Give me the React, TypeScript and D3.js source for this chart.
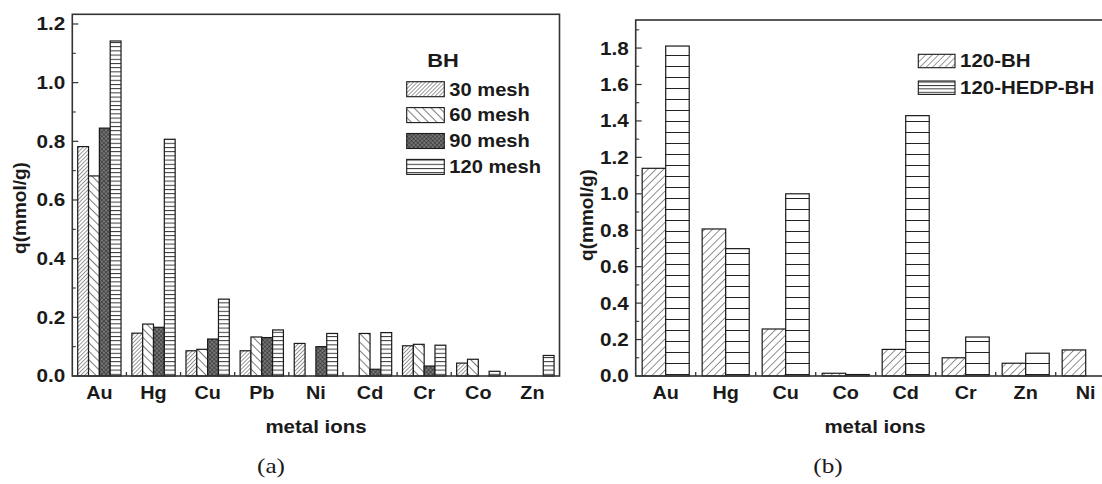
import React from "react";
import * as d3 from "d3";

// panel (a): adsorption by mesh size
const leftCats = ["Au", "Hg", "Cu", "Pb", "Ni", "Cd", "Cr", "Co", "Zn"];
const mesh30 = [0.782, 0.146, 0.086, 0.086, 0.111, 0, 0.103, 0.044, 0];
const mesh60 = [0.682, 0.177, 0.091, 0.133, 0, 0.145, 0.108, 0.057, 0];
const mesh90 = [0.845, 0.166, 0.126, 0.131, 0.1, 0.023, 0.034, 0, 0];
const mesh120 = [1.142, 0.807, 0.262, 0.157, 0.145, 0.148, 0.105, 0.016, 0.07];
const leftSeries = ["30 mesh", "60 mesh", "90 mesh", "120 mesh"];
const leftTicks = [0, 0.2, 0.4, 0.6, 0.8, 1.0, 1.2];

// panel (b): BH vs HEDP-BH
const rightCats = ["Au", "Hg", "Cu", "Co", "Cd", "Cr", "Zn", "Ni"];
const bh120 = [1.14, 0.807, 0.258, 0.015, 0.146, 0.1, 0.07, 0.143];
const hedp120 = [1.811, 0.699, 1.0, 0.008, 1.429, 0.214, 0.125, 0];
const rightSeries = ["120-BH", "120-HEDP-BH"];
const rightTicks = [0, 0.2, 0.4, 0.6, 0.8, 1.0, 1.2, 1.4, 1.6, 1.8];

const SANS = "'Liberation Sans', Arial, sans-serif";
const SERIF = "'Liberation Serif', 'Times New Roman', serif";
const INK = "#1a1a1a";

// text is slightly wider than tall in the source figure
const T = ({ x, y, size, anchor = "start", sx = 1.15, family = SANS, weight = "bold", children }) => (
  <text
    transform={`translate(${x},${y}) scale(${sx},1)`}
    fontSize={size}
    fontFamily={family}
    fontWeight={weight}
    textAnchor={anchor}
    dominantBaseline="central"
    fill={INK}
  >
    {children}
  </text>
);

const Hatch = ({ id, gap, angle, w = 0.9, color = "#222" }) => (
  <pattern id={id} patternUnits="userSpaceOnUse" width={gap} height={gap} patternTransform={`rotate(${angle})`}>
    <rect width={gap} height={gap} fill="#fff" />
    <line x1={0} y1={0} x2={0} y2={gap} stroke={color} strokeWidth={w} />
  </pattern>
);

const Horiz = ({ id, gap, w = 0.9 }) => (
  <pattern id={id} patternUnits="userSpaceOnUse" width={8} height={gap}>
    <rect width={8} height={gap} fill="#fff" />
    <line x1={0} y1={0.5} x2={8} y2={0.5} stroke="#222" strokeWidth={w} />
  </pattern>
);

const Panel = ({ cats, series, values, fills, left, right, top, bottom, yMax, ticks, padOuter }) => {
  const x = d3.scaleBand().domain(cats).range([left, right]);
  const xs = d3.scaleBand().domain(series).range([0, x.bandwidth()]).paddingOuter(padOuter);
  const y = d3.scaleLinear().domain([0, yMax]).range([bottom, top]);
  const minor = d3.range(0.1, yMax, 0.2);
  return (
    <g>
      {series.map((s, si) =>
        cats.map((c, ci) => {
          const v = values[si][ci];
          if (!v) return null;
          return (
            <rect
              key={s + c}
              x={x(c) + xs(s)}
              y={y(v)}
              width={xs.bandwidth()}
              height={y(0) - y(v)}
              fill={`url(#${fills[si]})`}
              stroke={INK}
              strokeWidth={1.2}
            />
          );
        })
      )}
      <rect x={left} y={top} width={right - left} height={bottom - top} fill="none" stroke="#333" strokeWidth={1.6} />
      {ticks.map((t) => (
        <g key={t}>
          <line x1={left} x2={left + 6} y1={y(t)} y2={y(t)} stroke="#333" strokeWidth={1.2} />
          <T x={left - 7} y={y(t)} size={18} anchor="end" sx={1.15}>
            {t.toFixed(1)}
          </T>
        </g>
      ))}
      {minor.map((t) => (
        <line key={t} x1={left} x2={left + 3.5} y1={y(t)} y2={y(t)} stroke="#333" strokeWidth={1.1} />
      ))}
      {cats.slice(1).map((c) => (
        <line key={c} x1={x(c)} x2={x(c)} y1={bottom} y2={bottom - 4} stroke="#333" strokeWidth={1.3} />
      ))}
      {cats.map((c) => (
        <T key={c} x={x(c) + x.bandwidth() / 2} y={bottom + 17} size={18} anchor="middle" sx={1.1}>
          {c}
        </T>
      ))}
    </g>
  );
};

const Swatch = ({ x, y, w, h, fill }) => (
  <rect x={x} y={y} width={w} height={h} fill={`url(#${fill})`} stroke={INK} strokeWidth={1.1} />
);

export default function App() {
  const leftFills = ["p30", "p60", "p90", "p120"];
  const rightFills = ["pBH", "pHEDP"];
  const leftLegFills = ["p30", "p60", "p90", "p120"];
  const rightLegFills = ["pBHleg", "pHEDPleg"];
  return (
    <svg width={1102} height={484} style={{ position: "absolute", left: 0, top: 0, background: "#fff" }}>
      <defs>
        <Hatch id="p30" gap={2.8} angle={45} w={1} color="#333" />
        <Hatch id="p60" gap={6} angle={-45} w={1.1} color="#111" />
        <pattern id="p90" patternUnits="userSpaceOnUse" width={3} height={3} patternTransform="rotate(45)">
          <rect width={3} height={3} fill="#777" />
          <line x1={0} y1={0} x2={0} y2={3} stroke="#222" strokeWidth={1} />
          <line x1={0} y1={0} x2={3} y2={0} stroke="#222" strokeWidth={1} />
        </pattern>
        <Horiz id="p120" gap={4.2} />
        <Hatch id="pBH" gap={5.5} angle={45} w={1} color="#222" />
        <Horiz id="pHEDP" gap={11} w={1} />
        <Hatch id="pBHleg" gap={4.5} angle={45} w={0.9} color="#222" />
        <Horiz id="pHEDPleg" gap={3.4} w={0.9} />
      </defs>

      {/* panel (a) */}
      <Panel
        cats={leftCats}
        series={leftSeries}
        values={[mesh30, mesh60, mesh90, mesh120]}
        fills={leftFills}
        left={72.3}
        right={559.5}
        top={14.3}
        bottom={376}
        yMax={1.233}
        ticks={leftTicks}
        padOuter={0.5}
      />
      <text
        transform="translate(19,208) rotate(-90)"
        fontSize={19}
        fontFamily={SANS}
        fontWeight="bold"
        textAnchor="middle"
        dominantBaseline="central"
        fill={INK}
      >
        q(mmol/g)
      </text>
      <T x={316} y={427} size={17.5} anchor="middle" sx={1.17}>
        metal ions
      </T>
      <T x={271} y={466} size={21} anchor="middle" sx={1.2} family={SERIF} weight="normal">
        (a)
      </T>
      <T x={443} y={60} size={19} anchor="middle" sx={1.15}>
        BH
      </T>
      {leftSeries.map((s, i) => (
        <g key={s}>
          <Swatch x={406.7} y={81.7 + i * 25.9} w={37.6} h={15} fill={leftLegFills[i]} />
          <T x={449.3} y={89.5 + i * 25.9} size={17.5} sx={1.15}>
            {s}
          </T>
        </g>
      ))}

      {/* panel (b) */}
      <Panel
        cats={rightCats}
        series={rightSeries}
        values={[bh120, hedp120]}
        fills={rightFills}
        left={635.7}
        right={1115.7}
        top={20}
        bottom={376}
        yMax={1.954}
        ticks={rightTicks}
        padOuter={0.275}
      />
      <text
        transform="translate(586,215) rotate(-90)"
        fontSize={19}
        fontFamily={SANS}
        fontWeight="bold"
        textAnchor="middle"
        dominantBaseline="central"
        fill={INK}
      >
        q(mmol/g)
      </text>
      <T x={875} y={427} size={17.5} anchor="middle" sx={1.17}>
        metal ions
      </T>
      <T x={828} y={466} size={21} anchor="middle" sx={1.2} family={SERIF} weight="normal">
        (b)
      </T>
      {rightSeries.map((s, i) => (
        <g key={s}>
          <Swatch x={918.3} y={54.3 + i * 26.7} w={36.7} h={13.4} fill={rightLegFills[i]} />
          <T x={960} y={61.5 + i * 26.7} size={17.5} sx={1.17}>
            {s}
          </T>
        </g>
      ))}
    </svg>
  );
}
